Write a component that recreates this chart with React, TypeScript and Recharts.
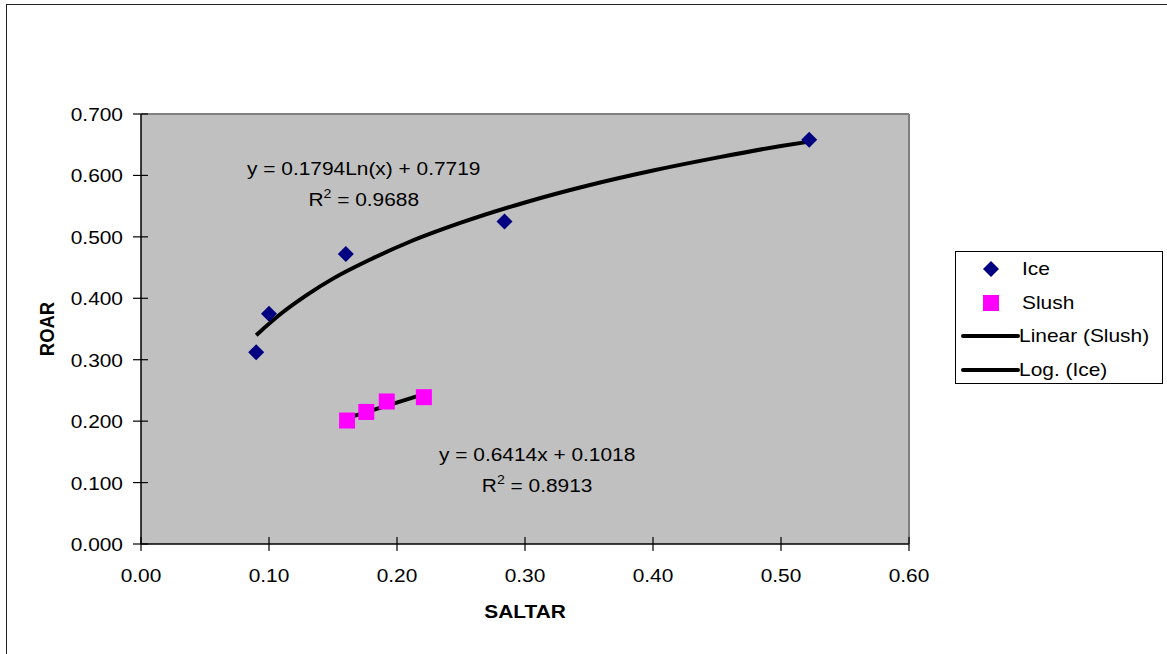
import {
  ComposedChart,
  Scatter,
  Line,
  XAxis,
  YAxis,
  CartesianGrid,
  ReferenceLine,
  ReferenceDot,
  Legend,
} from 'recharts';

const iceX = [0.09, 0.1, 0.16, 0.284, 0.522];
const iceY = [0.312, 0.375, 0.472, 0.525, 0.658];
const slushX = [0.161, 0.176, 0.192, 0.221];
const slushY = [0.201, 0.215, 0.232, 0.239];

// trendline points
const logTrendX = [0.09, 0.11, 0.13, 0.15, 0.18, 0.21, 0.25, 0.3, 0.35, 0.4, 0.45, 0.5, 0.522];
const logTrendY = [0.34, 0.376, 0.406, 0.432, 0.464, 0.492, 0.523, 0.556, 0.584, 0.608, 0.629, 0.648, 0.655];
const linTrendX = [0.161, 0.221];
const linTrendY = [0.205, 0.244];

const xTicks = [0, 0.1, 0.2, 0.3, 0.4, 0.5, 0.6];
const yTicks = [0, 0.1, 0.2, 0.3, 0.4, 0.5, 0.6, 0.7];

const legendNames = ['Ice', 'Slush', 'Linear (Slush)', 'Log. (Ice)'];

const ice = iceX.map((x, i) => ({ x, y: iceY[i] }));
const slush = slushX.map((x, i) => ({ x, y: slushY[i] }));
const logTrend = logTrendX.map((x, i) => ({ x, y: logTrendY[i] }));
const linTrend = linTrendX.map((x, i) => ({ x, y: linTrendY[i] }));

const FONT = '"Liberation Sans", Arial, sans-serif';
const FS = 18.5;
const SX = 1.13; // the original is a little wider than tall

const Diamond = ({ cx, cy }: any) => (
  <polygon points={`${cx},${cy - 8} ${cx + 8},${cy} ${cx},${cy + 8} ${cx - 8},${cy}`} fill="#000080" />
);
const Square = ({ cx, cy }: any) => <rect x={cx - 8} y={cy - 8} width={16} height={16} fill="#ff00ff" />;

const WideText = ({ x, y, anchor = 'middle', bold = false, children }: any) => (
  <text
    transform={`translate(${x} ${y}) scale(${SX} 1)`}
    x={0}
    y={0}
    textAnchor={anchor}
    fontSize={FS}
    fontFamily={FONT}
    fontWeight={bold ? 'bold' : 'normal'}
    fill="#000"
  >
    {children}
  </text>
);

const YTick = ({ x, y, payload }: any) => (
  <g>
    <line x1={x + 10} x2={x + 25} y1={y} y2={y} stroke="#000" strokeWidth={1.2} />
    <WideText x={x} y={y + 7} anchor="end">{Number(payload.value).toFixed(3)}</WideText>
  </g>
);

const XTick = ({ x, y, payload }: any) => (
  <g>
    <line x1={x} x2={x} y1={y - 22} y2={y - 8} stroke="#000" strokeWidth={1.2} />
    <WideText x={x} y={y + 23}>{Number(payload.value).toFixed(2)}</WideText>
  </g>
);

const EqLabel = (lines: string[]) => (props: any) => {
  const { viewBox } = props;
  const cx = viewBox.x + (viewBox.width || 0) / 2;
  const cy = viewBox.y + (viewBox.height || 0) / 2;
  return (
    <g>
      <WideText x={cx} y={cy}>{lines[0]}</WideText>
      <WideText x={cx} y={cy + 31}>
        R<tspan dy={-8} fontSize={12.5}>2</tspan>
        <tspan dy={8}>{' = ' + lines[1]}</tspan>
      </WideText>
    </g>
  );
};

const XTitle = (props: any) => {
  const { viewBox } = props;
  return (
    <WideText x={viewBox.x + viewBox.width / 2} y={viewBox.y + 74} bold>
      SALTAR
    </WideText>
  );
};

const YTitle = (props: any) => {
  const { viewBox } = props;
  const cy = viewBox.y + viewBox.height / 2;
  return (
    <text
      transform={`translate(54 ${cy}) scale(${SX} 1) rotate(-90)`}
      x={0}
      y={0}
      textAnchor="middle"
      fontSize={FS}
      fontFamily={FONT}
      fontWeight="bold"
      fill="#000"
    >
      ROAR
    </text>
  );
};

const LegendBox = () => (
  <div
    style={{
      width: 208,
      height: 133,
      boxSizing: 'border-box',
      border: '1px solid #000',
      background: '#fff',
      fontFamily: FONT,
      fontSize: FS,
      position: 'relative',
    }}
  >
    {legendNames.map((name, i) => {
      const cy = 17 + i * 33.5;
      return (
        <div key={name} style={{ position: 'absolute', top: cy - 12, left: 0, height: 24, width: '100%' }}>
          <svg width={64} height={24} style={{ position: 'absolute', left: 0, top: 0 }}>
            {i === 0 && <polygon points="35,4 43,12 35,20 27,12" fill="#000080" />}
            {i === 1 && <rect x={27} y={4} width={16} height={16} fill="#ff00ff" />}
            {i >= 2 && <line x1={7} x2={62} y1={12} y2={12} stroke="#000" strokeWidth={4} strokeLinecap="round" />}
          </svg>
          <span
            style={{
              position: 'absolute',
              left: i >= 2 ? 63 : 66,
              top: 0,
              lineHeight: '24px',
              whiteSpace: 'nowrap',
              transform: `scaleX(${SX})`,
              transformOrigin: 'left center',
            }}
          >
            {name}
          </span>
        </div>
      );
    })}
  </div>
);

export default function App() {
  return (
    <div style={{ position: 'absolute', left: 0, top: 0, width: 1167, height: 654, overflow: 'hidden', background: '#fff' }}>
      <div
        style={{
          position: 'absolute',
          left: 6,
          top: 4,
          width: 1200,
          height: 700,
          border: '1.5px solid #222',
        }}
      />
      <div style={{ position: 'absolute', left: 0, top: 0 }}>
        <ComposedChart width={1167} height={654} margin={{ top: 114, right: 50, bottom: 30, left: 0 }}>
          <CartesianGrid horizontal={false} vertical={false} fill="#c0c0c0" />
          <XAxis
            type="number"
            dataKey="x"
            domain={[0, 0.6]}
            ticks={xTicks}
            tick={<XTick />}
            tickLine={false}
            tickSize={7}
            tickMargin={8}
            height={80}
            axisLine={{ stroke: '#000', strokeWidth: 1.5 }}
            label={XTitle}
          />
          <YAxis
            type="number"
            dataKey="y"
            domain={[0, 0.7]}
            ticks={yTicks}
            tick={<YTick />}
            tickLine={false}
            tickSize={7}
            tickMargin={11}
            width={141}
            axisLine={{ stroke: '#000', strokeWidth: 1.5 }}
            label={YTitle}
          />
          <ReferenceLine y={0.7} stroke="#808080" strokeWidth={2} />
          <ReferenceLine x={0.6} stroke="#808080" strokeWidth={2} />
          <Line data={logTrend} dataKey="y" type="monotone" stroke="#000" strokeWidth={4} dot={false} isAnimationActive={false} name="Log. (Ice)" />
          <Line data={linTrend} dataKey="y" type="linear" stroke="#000" strokeWidth={4} dot={false} isAnimationActive={false} name="Linear (Slush)" />
          <Scatter data={ice} dataKey="y" shape={<Diamond />} isAnimationActive={false} name="Ice" />
          <Scatter data={slush} dataKey="y" shape={<Square />} isAnimationActive={false} name="Slush" />
          <ReferenceDot x={0.174} y={0.601} r={0} label={EqLabel(['y = 0.1794Ln(x) + 0.7719', '0.9688'])} />
          <ReferenceDot x={0.3095} y={0.135} r={0} label={EqLabel(['y = 0.6414x + 0.1018', '0.8913'])} />
          <Legend
            layout="vertical"
            align="right"
            verticalAlign="top"
            content={<LegendBox />}
            wrapperStyle={{ left: 955, top: 251, width: 208 }}
          />
        </ComposedChart>
      </div>
    </div>
  );
}
